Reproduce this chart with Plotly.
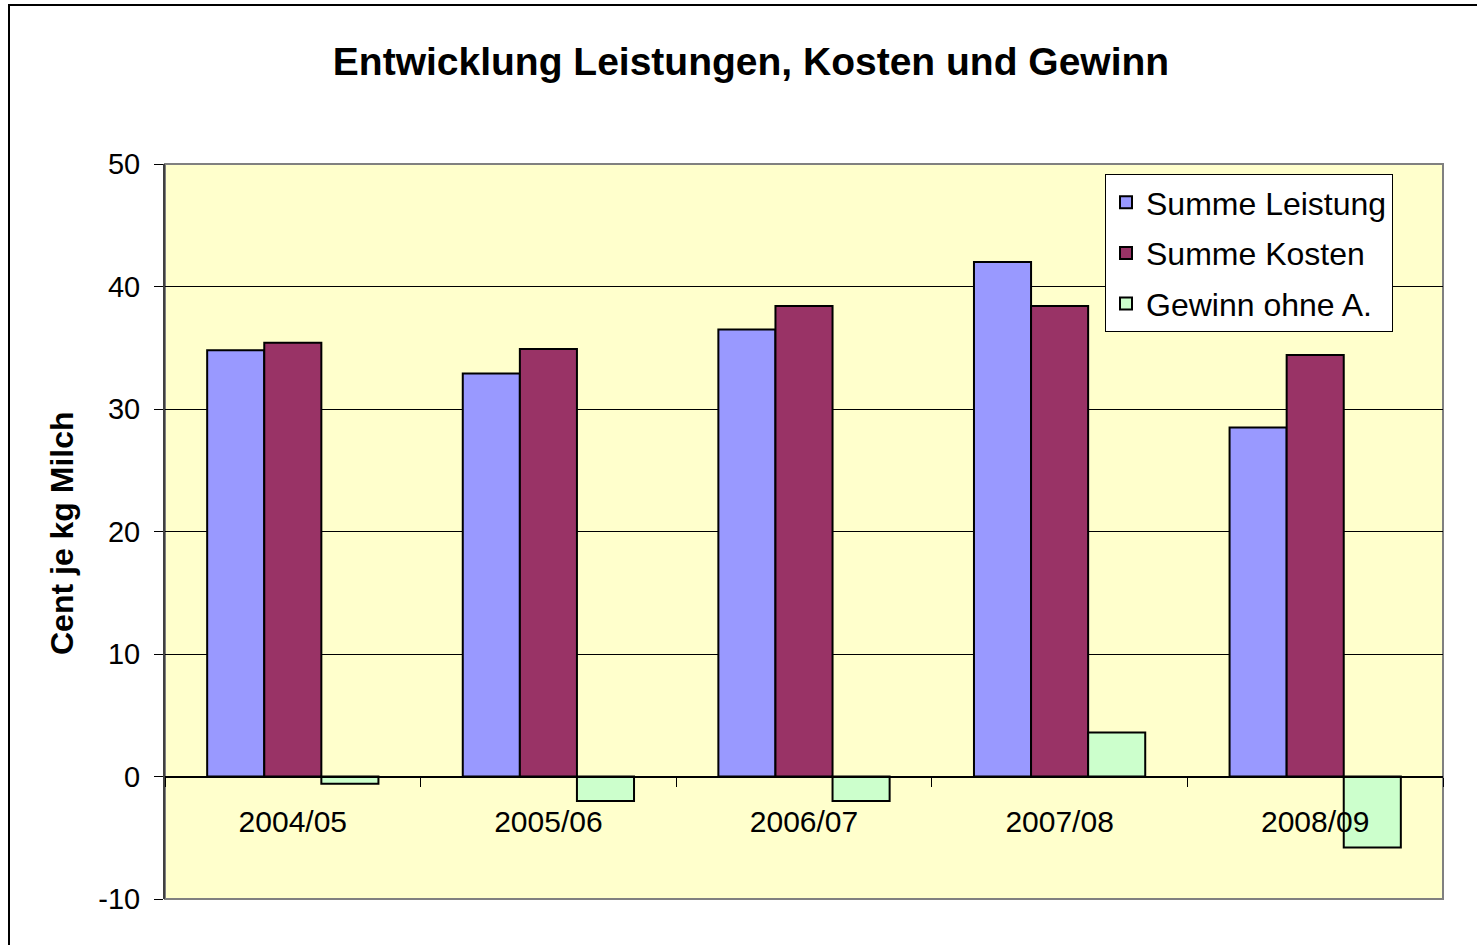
import plotly.graph_objects as go

categories = ["2004/05", "2005/06", "2006/07", "2007/08", "2008/09"]
leistung = [34.8, 32.9, 36.5, 42.0, 28.5]
kosten = [35.4, 34.9, 38.4, 38.4, 34.4]
gewinn = [-0.6, -2.0, -2.0, 3.6, -5.8]
series_names = ["Summe Leistung", "Summe Kosten", "Gewinn ohne A."]
colors = ["#9999FF", "#993366", "#CCFFCC"]
y_ticks = [-10, 0, 10, 20, 30, 40, 50]

FONT = "Arial, Liberation Sans, sans-serif"

fig = go.Figure()
for i, (name, vals, col) in enumerate(zip(series_names, [leistung, kosten, gewinn], colors)):
    fig.add_trace(go.Bar(
        x=categories, y=vals, name=name, legendgroup=f"g{i}",
        marker=dict(color=col, line=dict(color="black", width=2)),
    ))

W, H = 1477, 945
L, R, T, B = 165, 1443, 164, 899
pw, ph = R - L, B - T

fig.update_layout(
    width=W, height=H,
    margin=dict(l=L, r=W - R, t=T, b=H - B),
    paper_bgcolor="white",
    plot_bgcolor="#FFFFCC",
    barmode="group",
    bargap=0.33,
    bargroupgap=0,
    font=dict(family=FONT, size=29, color="black"),
    title=dict(
        text="<b>Entwicklung Leistungen, Kosten und Gewinn</b>",
        x=751 / W, xref="container", xanchor="center",
        y=1 - 61 / H, yref="container", yanchor="middle",
        font=dict(family=FONT, size=39, color="black"),
    ),
    legend=dict(
        x=(1105 - L) / pw, y=(B - 174) / ph,
        xanchor="left", yanchor="top",
        bgcolor="white", bordercolor="black", borderwidth=1,
        font=dict(family=FONT, size=32, color="black"),
        tracegroupgap=6,
    ),
    showlegend=True,
)

fig.update_yaxes(
    range=[-10, 50], tickvals=y_ticks, ticktext=[str(v) for v in y_ticks],
    showgrid=True, gridcolor="black", gridwidth=1,
    zeroline=False,
    showline=True, linecolor="#404040", linewidth=2,
    ticks="outside", ticklen=9, tickcolor="black", tickwidth=1,
    tickfont=dict(size=29), ticklabelstandoff=8, fixedrange=True,
)
fig.update_xaxes(
    anchor="free", position=10 / 60,
    showgrid=False, zeroline=False,
    showline=True, linecolor="black", linewidth=1,
    ticks="outside", tickson="boundaries", ticklen=9, tickcolor="black",
    tickfont=dict(size=30), ticklabelstandoff=18, fixedrange=True,
)

# plot-area frame
fig.add_shape(type="rect", xref="paper", yref="paper", x0=0, x1=1, y0=0, y1=1,
              line=dict(color="#808080", width=2), layer="below")
# outer chart border
fig.add_shape(type="rect", xref="paper", yref="paper",
              x0=(9 - L) / pw, x1=1.2, y0=-0.2, y1=(B - 5) / ph,
              line=dict(color="black", width=2), layer="above")

fig.add_annotation(
    text="<b>Cent je kg Milch</b>", textangle=-90,
    xref="paper", yref="paper", x=(62 - L) / pw, y=(B - 533) / ph,
    xanchor="center", yanchor="middle", showarrow=False,
    font=dict(family=FONT, size=32, color="black"),
)

fig.write_html("out.html", config={"displayModeBar": False},
               post_script="document.body.style.margin='0px';")
